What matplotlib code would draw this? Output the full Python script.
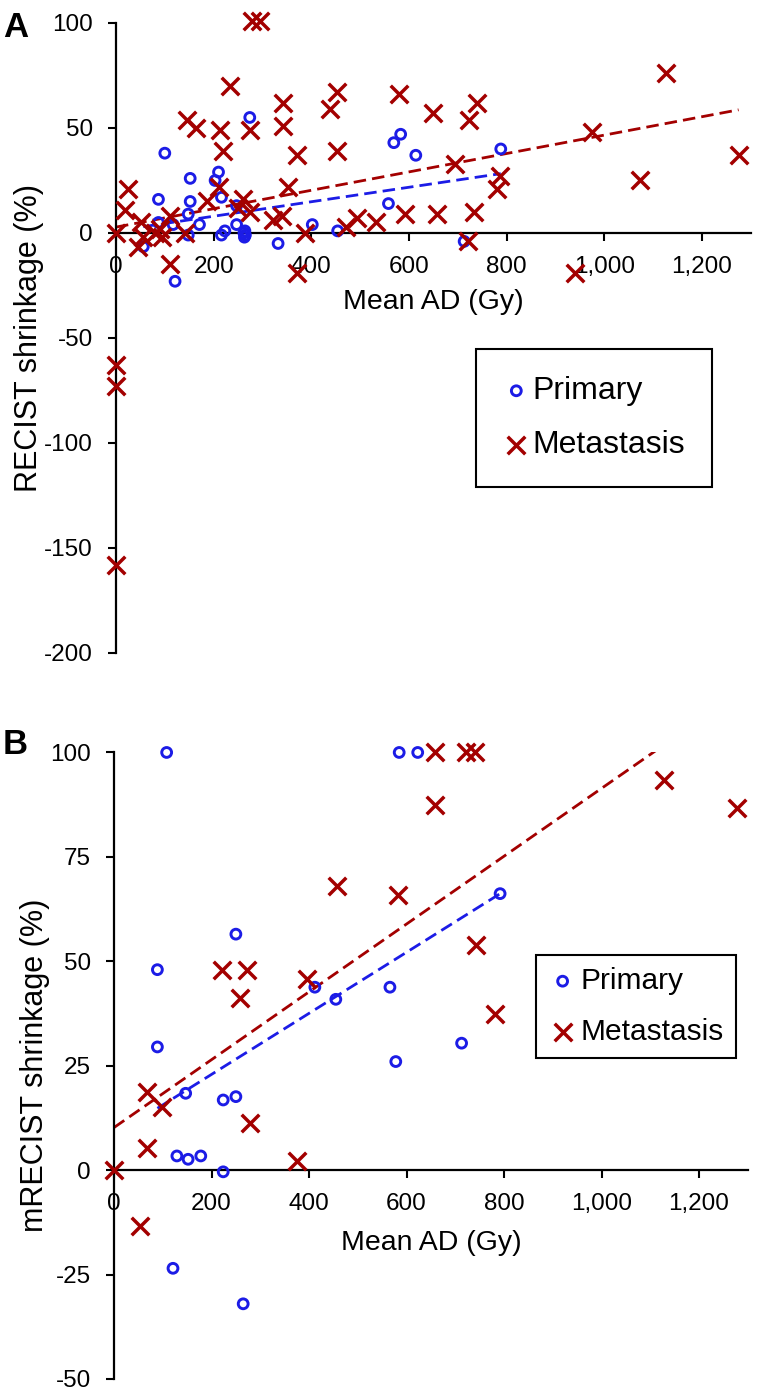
import numpy as np
import matplotlib
matplotlib.use("Agg")
import matplotlib.pyplot as plt
from matplotlib.ticker import StrMethodFormatter

plt.rcParams['font.family'] = ['Liberation Sans', 'DejaVu Sans']
plt.rcParams['axes.unicode_minus'] = False

BLUE = '#1c1ce6'
RED = '#a30000'

# Panel A: RECIST shrinkage vs mean absorbed dose
a_prim_x = [56, 87, 87, 100, 117, 121, 148, 148, 152, 152, 171, 203, 210, 216, 216,
            223, 247, 247, 262, 263, 264, 265, 274, 332, 402, 454, 558, 569, 583, 614,
            713, 788]
a_prim_y = [-6.5, 5, 16, 38, 4, -23, 9, -1, 15, 26, 4, 25, 29, 17, -1,
            1, 4, 13, 0, -2, 1, -1, 55, -5, 4, 1, 14, 43, 47, 37,
            -4, 40]
a_meta_x = [0, 0, 0, 0, 25, 18, 52, 56, 46, 80, 90, 94, 110, 110, 141, 145, 163, 186,
            210, 213, 220, 233, 250, 261, 274, 274, 278, 295, 322, 339, 343, 343, 353,
            370, 370, 387, 438, 452, 452, 472, 493, 532, 580, 592, 650, 657, 694, 720,
            722, 733, 739, 780, 786, 940, 974, 1073, 1126, 1275]
a_meta_y = [0, -63, -73, -158, 21, 11, 5, -2, -6.5, 0, 2, -2, 8, -15, 0, 54, 50, 15,
            22, 49, 39, 70, 12, 16, 10, 49, 101, 101, 6, 8, 62, 51, 22,
            37, -19, 0, 59, 67, 39, 3, 7, 5, 66, 9, 57, 9, 33, -4,
            54, 10, 62, 21, 27, -19, 48, 25, 76, 37]

# Panel B: mRECIST shrinkage vs mean absorbed dose
b_prim_x = [89, 89, 108, 121, 129, 147, 152, 178, 224, 224, 250, 250, 265, 412, 455,
            566, 578, 585, 623, 713, 792]
b_prim_y = [48, 29.5, 100, -23.5, 3.4, 18.4, 2.6, 3.4, 16.8, -0.4, 56.5, 17.6, -32, 43.8, 40.9,
            43.8, 26, 100, 100, 30.4, 66.2]
b_meta_x = [0, 53, 67, 67, 98, 221, 258, 272, 279, 375, 395, 458, 582, 658, 658,
            723, 740, 743, 781, 1129, 1277]
b_meta_y = [0, -13.4, 18.7, 5.4, 15.2, 47.9, 41.1, 47.9, 11.4, 2.2, 45.7, 68, 65.8, 100, 87.5,
            100, 100, 53.8, 37.4, 93.5, 86.6]

# linear trend lines: (slope, intercept)
a_prim_trend = (0.0345, 1.07)
a_meta_trend = (0.0438, 2.8)
b_prim_trend = (0.0731, 8.3)
b_meta_trend = (0.0812, 10.2)

fig = plt.figure(figsize=(7.57, 13.92), dpi=100)
ax_a = fig.add_axes([0.1532, 0.5309, 0.8386, 0.4526])
ax_b = fig.add_axes([0.1506, 0.00934, 0.8372, 0.4501])


def draw_panel(ax, px, py, mx, my, ptrend, mtrend, ylim, yticks, ylabel):
    ax.scatter(px, py, s=50, facecolors='none', edgecolors=BLUE, linewidths=2.1,
               clip_on=False, zorder=3, label='Primary')
    ax.scatter(mx, my, s=160, marker='x', color=RED, linewidths=2.5,
               clip_on=False, zorder=3, label='Metastasis')
    for xs, (k, b), c in [(px, ptrend, BLUE), (mx, mtrend, RED)]:
        xx = np.array([min(xs), max(xs)])
        ax.plot(xx, k * xx + b, color=c, lw=2.0, dashes=(4.5, 2.2), zorder=2)
    ax.set_xlim(0, 1300)
    ax.set_ylim(*ylim)
    ax.set_xticks([0, 200, 400, 600, 800, 1000, 1200])
    ax.set_yticks(yticks)
    ax.xaxis.set_major_formatter(StrMethodFormatter('{x:,.0f}'))
    ax.spines['top'].set_visible(False)
    ax.spines['right'].set_visible(False)
    ax.spines['bottom'].set_position(('data', 0))
    for s in ('left', 'bottom'):
        ax.spines[s].set_linewidth(1.6)
    ax.tick_params(direction='out', length=5.5, width=1.5, labelsize=17.5, pad=11)
    ax.set_ylabel(ylabel, fontsize=22, labelpad=0)


draw_panel(ax_a, a_prim_x, a_prim_y, a_meta_x, a_meta_y, a_prim_trend, a_meta_trend,
           (-200, 100), [-200, -150, -100, -50, 0, 50, 100], 'RECIST shrinkage (%)')
draw_panel(ax_b, b_prim_x, b_prim_y, b_meta_x, b_meta_y, b_prim_trend, b_meta_trend,
           (-50, 100), [-50, -25, 0, 25, 50, 75, 100], 'mRECIST shrinkage (%)')

ax_a.set_xlabel('Mean AD (Gy)', fontsize=20.5)
ax_a.xaxis.set_label_coords(0.5, 0.578)
ax_b.set_xlabel('Mean AD (Gy)', fontsize=20.5)
ax_b.xaxis.set_label_coords(0.5, 0.238)

legend_opts = [(ax_a, 23, (0.939, 0.4825), 0.85, 0.75, 0.8),
               (ax_b, 21.5, (0.981, 0.6766), 0.4, 0.77, 1.0)]
for ax, fs, anchor, bp, ls, hl in legend_opts:
    leg = ax.legend(loc='upper right', bbox_to_anchor=anchor, fontsize=fs, fancybox=False,
                    edgecolor='black', framealpha=1, handletextpad=0.1, borderpad=bp,
                    labelspacing=ls, handlelength=hl, borderaxespad=0, scatterpoints=1)
    leg.get_frame().set_linewidth(1.5)

fig.text(0.004, 0.992, 'A', fontsize=25, fontweight='bold', va='top')
fig.text(0.004, 0.477, 'B', fontsize=25, fontweight='bold', va='top')

fig.savefig('out.png', dpi=100)
